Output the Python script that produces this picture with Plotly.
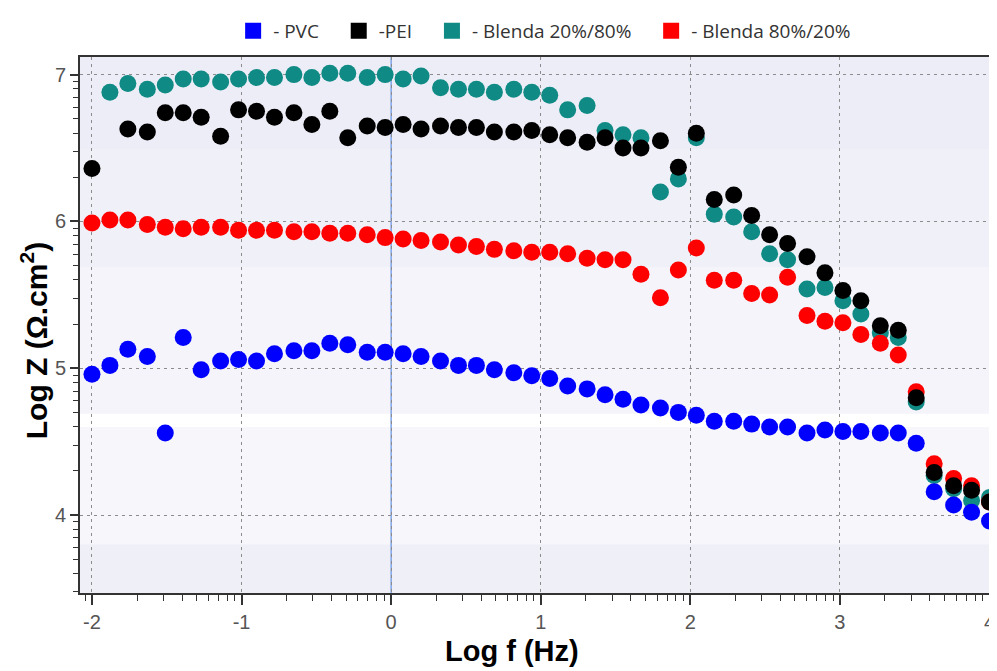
import math
import plotly.graph_objects as go

# ---------------- data ----------------
log_f = [-2.00, -1.88, -1.76, -1.63, -1.51, -1.39, -1.27, -1.14, -1.02, -0.90,
         -0.78, -0.65, -0.53, -0.41, -0.29, -0.16, -0.04, 0.08, 0.20, 0.33,
         0.45, 0.57, 0.69, 0.82, 0.94, 1.06, 1.18, 1.31, 1.43, 1.55,
         1.67, 1.80, 1.92, 2.04, 2.16, 2.29, 2.41, 2.53, 2.65, 2.78,
         2.90, 3.02, 3.14, 3.27, 3.39, 3.51, 3.63, 3.76, 3.88, 4.00]

pvc = [4.96, 5.02, 5.13, 5.08, 4.56, 5.21, 4.99, 5.05, 5.06, 5.05,
       5.10, 5.12, 5.12, 5.17, 5.16, 5.11, 5.11, 5.10, 5.08, 5.05,
       5.02, 5.02, 4.99, 4.97, 4.95, 4.93, 4.88, 4.86, 4.82, 4.79,
       4.75, 4.73, 4.70, 4.68, 4.64, 4.64, 4.62, 4.60, 4.60, 4.56,
       4.58, 4.57, 4.57, 4.56, 4.56, 4.49, 4.16, 4.07, 4.02, 3.96]

pei = [6.36, None, 6.63, 6.61, 6.74, 6.74, 6.71, 6.58, 6.76, 6.75,
       6.71, 6.74, 6.66, 6.75, 6.57, 6.65, 6.64, 6.66, 6.63, 6.65,
       6.64, 6.64, 6.61, 6.61, 6.62, 6.59, 6.57, 6.54, 6.57, 6.50,
       6.50, 6.55, 6.37, 6.60, 6.15, 6.18, 6.04, 5.91, 5.85, 5.76,
       5.65, 5.53, 5.46, 5.29, 5.26, 4.80, 4.29, 4.20, 4.17, 4.09]

blend_20_80 = [None, 6.88, 6.94, 6.90, 6.93, 6.97, 6.97, 6.95, 6.97, 6.98,
               6.98, 7.00, 6.98, 7.01, 7.01, 6.98, 7.00, 6.97, 6.99, 6.91,
               6.90, 6.90, 6.88, 6.90, 6.88, 6.86, 6.76, 6.79, 6.62, 6.59,
               6.57, 6.20, 6.29, 6.57, 6.05, 6.03, 5.93, 5.78, 5.74, 5.54,
               5.55, 5.46, 5.37, 5.24, 5.21, 4.77, 4.27, 4.18, 4.10, 4.12]

blend_80_20 = [5.99, 6.01, 6.01, 5.98, 5.96, 5.95, 5.96, 5.96, 5.94, 5.94,
               5.94, 5.93, 5.93, 5.92, 5.92, 5.91, 5.89, 5.88, 5.87, 5.86,
               5.84, 5.83, 5.81, 5.80, 5.79, 5.79, 5.78, 5.75, 5.74, 5.74,
               5.64, 5.48, 5.67, 5.82, 5.60, 5.60, 5.51, 5.50, 5.62, 5.36,
               5.32, 5.31, 5.23, 5.17, 5.09, 4.84, 4.35, 4.25, 4.20, 4.09]

legend_labels = ["- PVC", "-PEI", "- Blenda 20%/80%", "- Blenda 80%/20%"]
x_ticks = [-2, -1, 0, 1, 2, 3, 4]
y_ticks = [4, 5, 6, 7]

# ---------------- styles ----------------
C_PVC = "#0000ff"
C_PEI = "#000000"
C_2080 = "#0f8a84"
C_8020 = "#ff0000"
MS = 17
NB = "\u00a0"
legend_pad = [3, 3, 3, 0]   # trailing non-breaking spaces to widen gaps between entries

fig = go.Figure()

# legend-only entries (square symbols as in the original)
for name, col, pad in zip(legend_labels, [C_PVC, C_PEI, C_2080, C_8020], legend_pad):
    fig.add_trace(go.Scatter(x=[None], y=[None], mode="markers", name=name + NB * pad,
                             marker=dict(symbol="square", size=18, color=col),
                             showlegend=True))

# data traces (drawing order: teal, red, black, blue)
for vals, col in [(blend_20_80, C_2080), (blend_80_20, C_8020),
                  (pei, C_PEI), (pvc, C_PVC)]:
    fig.add_trace(go.Scatter(x=log_f, y=vals, mode="markers", showlegend=False,
                             marker=dict(symbol="circle", size=MS, color=col,
                                         line=dict(width=0))))

# log-style minor ticks
x_minor = [d + math.log10(k) for d in range(-3, 5) for k in range(2, 10)]
x_minor = [v for v in x_minor if -2.08 < v < 4.05]
y_minor = [d + math.log10(k) for d in range(3, 8) for k in range(2, 10)]
y_minor = [v for v in y_minor if 3.47 < v < 7.12]

# background bands (gradient-like shading of the original)
bands = [(7.2, 6.49, "#ededf7"), (6.49, 5.69, "#f0f0f8"), (5.69, 4.69, "#f4f4fa"),
         (4.69, 4.60, "#ffffff"), (4.60, 3.80, "#f7f7fb"), (3.80, 3.40, "#efeff8")]
for y1, y0, col in bands:
    fig.add_shape(type="rect", xref="paper", yref="y", x0=0, x1=1, y0=y0, y1=y1,
                  fillcolor=col, line=dict(width=0), layer="below")

# blue vertical line at log f = 0
fig.add_shape(type="line", xref="x", yref="paper", x0=0, x1=0, y0=0, y1=1,
              line=dict(color="#7fa3e6", width=1.5), layer="below")

# page body adds an 8px offset: size the figure to fit the window
fig.update_layout(
    width=989, height=663,
    margin=dict(l=72, r=0, t=49, b=78),
    paper_bgcolor="white",
    plot_bgcolor="#f2f2f9",
    font=dict(family="Liberation Sans, Arial, sans-serif", color="#555"),
    legend=dict(orientation="h", x=0.167, xanchor="left", y=1.0485, yanchor="middle",
                font=dict(family="Open Sans, sans-serif", size=19, color="#333"),
                bgcolor="rgba(0,0,0,0)", itemwidth=30),
    showlegend=True,
)

fig.update_xaxes(
    range=[-2.08, 4.05], tickvals=x_ticks, ticktext=[str(v) for v in x_ticks],
    showgrid=True, gridcolor="#8c8c8c", griddash="3px,4px", gridwidth=1.3,
    zeroline=False, showline=True, linecolor="#333", linewidth=2, mirror=True,
    ticks="outside", ticklen=10, tickwidth=1.5, tickcolor="#333",
    tickfont=dict(size=20, color="#555"),
    minor=dict(tickmode="array", tickvals=x_minor, ticks="outside", ticklen=6,
               tickwidth=1.3, tickcolor="#333", showgrid=False),
)
fig.update_yaxes(
    range=[3.47, 7.12], tickvals=y_ticks, ticktext=[str(v) for v in y_ticks],
    showgrid=True, gridcolor="#8c8c8c", griddash="3px,4px", gridwidth=1.3,
    zeroline=False, showline=True, linecolor="#333", linewidth=2,
    ticks="outside", ticklen=8, tickwidth=1.5, tickcolor="#333",
    tickfont=dict(size=20, color="#555"),
    minor=dict(tickmode="array", tickvals=y_minor, ticks="outside", ticklen=5,
               tickwidth=1.3, tickcolor="#333", showgrid=False),
)

# axis titles
fig.add_annotation(text="<b>Log f (Hz)</b>", xref="paper", yref="paper",
                   x=(504 - 72) / 917, y=-0.108, xanchor="center", yanchor="middle",
                   showarrow=False,
                   font=dict(family="Liberation Sans, Arial, sans-serif", size=29, color="#000"))
fig.add_annotation(text="<b>Log Z (Ω.cm<sup>2</sup>)</b>", xref="paper", yref="paper",
                   x=-0.05, y=0.47, xanchor="center", yanchor="middle", textangle=-90,
                   showarrow=False,
                   font=dict(family="Liberation Sans, Arial, sans-serif", size=30, color="#000"))

fig.write_html("out.html")
